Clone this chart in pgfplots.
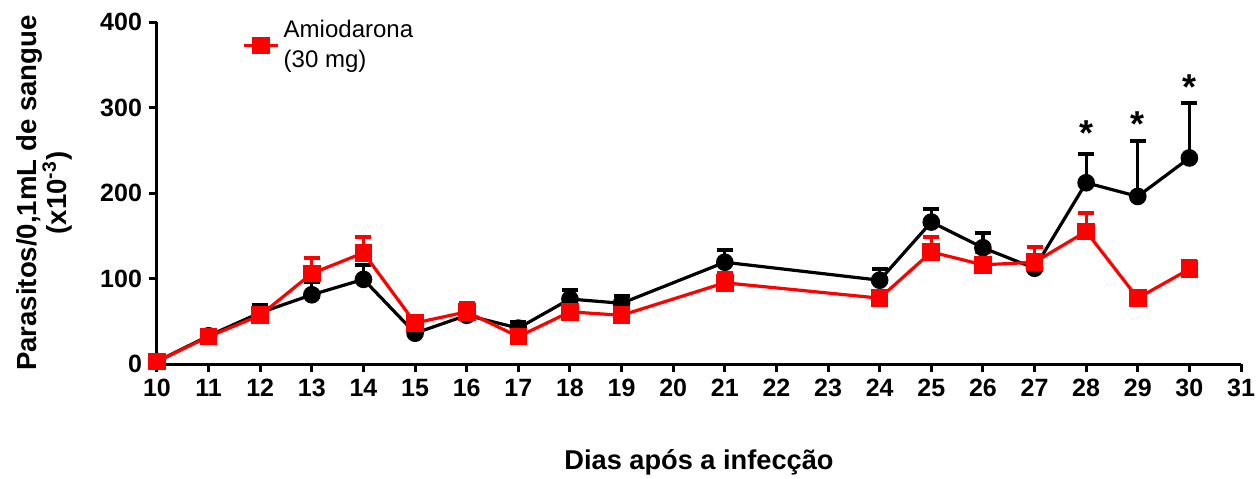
\documentclass[border=0pt]{standalone}
\usepackage{pgfplots}
\pgfplotsset{compat=1.18}
\usepackage{fontspec}
\setmainfont{Liberation Sans}
\begin{document}
\begin{tikzpicture}
\begin{axis}[
  at={(0,0)}, anchor=south west,
  scale only axis, width=542pt, height=171pt,
  xmin=10, xmax=31, ymin=0, ymax=400,
  axis lines=left, axis line style={line width=1.5pt, -},
  xtick={10,...,31}, ytick={0,100,...,400},
  tick style={line width=1.5pt, black}, tick align=outside, major tick length=4pt,
  ticklabel style={font=\bfseries\fontsize{12.5}{14}\selectfont},
  /pgf/number format/assume math mode=true,
  clip=false,
  xlabel={Dias após a infecção},
  xlabel style={at={(axis description cs:0.5,0)}, anchor=center, yshift=-49pt, font=\bfseries\fontsize{13.6}{16}\selectfont},
  ylabel={Parasitos/0,1mL de sangue\\(x10\textsuperscript{-3})},
  ylabel style={at={(axis description cs:-0.104,0.5)}, anchor=center, align=center, font=\bfseries\fontsize{13.8}{15}\selectfont},
  legend style={at={(axis description cs:0,1)}, anchor=north west, xshift=39.5pt, yshift=5pt, draw=none, fill=none, font=\fontsize{12}{15}\selectfont, cells={align=left}},
]
\addplot[forget plot, black, line width=1.6pt, mark=*, mark size=3.6pt, mark options={solid},
  error bars/.cd, y dir=plus, y explicit,
  error bar style={line width=1.6pt},
  error mark options={line width=2pt, mark size=4pt, rotate=90}]
  table[x=x, y=y, y error=e] {
x y e
10 3 0
11 33 2
12 60 9
13 81 15
14 99 17
15 36 4
16 57 10
17 42 7
18 76 11
19 71 9
21 119 14
24 98 13
25 166 15
26 136 17
27 112 10
28 212 34
29 196 65
30 241 64
};
\addplot[red, line width=1.6pt, mark=square*, mark size=3.6pt, mark options={solid},
  error bars/.cd, y dir=plus, y explicit,
  error bar style={line width=1.6pt},
  error mark options={line width=2pt, mark size=4pt, rotate=90}]
  table[x=x, y=y, y error=e] {
x y e
10 3 0
11 32 2
12 57 5
13 106 18
14 130 19
15 48 5
16 61 10
17 32 4
18 61 6
19 57 4
21 95 12
24 77 8
25 131 18
26 116 15
27 119 18
28 155 22
29 77 3
30 111 9
};
\addlegendentry{Amiodarona\\(30 mg)}
\node[font=\bfseries\fontsize{18}{20}\selectfont] at (axis cs:28,270) {*};
\node[font=\bfseries\fontsize{18}{20}\selectfont] at (axis cs:29,281) {*};
\node[font=\bfseries\fontsize{18}{20}\selectfont] at (axis cs:30,324) {*};
\end{axis}
\pgfresetboundingbox
\path (-78.5pt,-57pt) rectangle (551pt,182pt);
\end{tikzpicture}
\end{document}
